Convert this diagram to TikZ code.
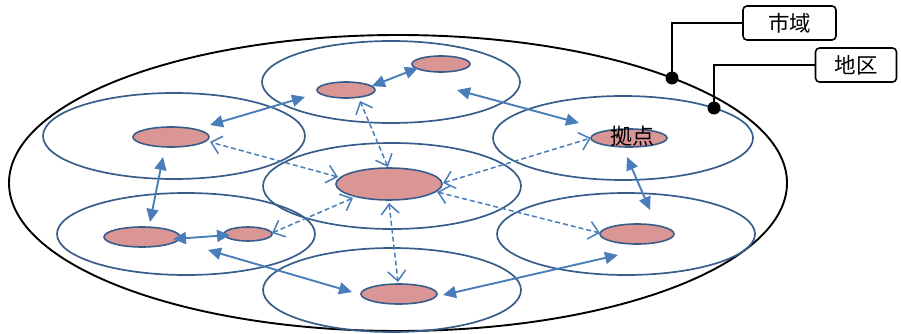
\documentclass[tikz,border=0pt]{standalone}
\usepackage{fontspec}
\newfontfamily\cjk{Noto Sans CJK JP}
\usetikzlibrary{shapes.geometric,arrows.meta}
\definecolor{rblue}{RGB}{56,93,138}
\definecolor{pinkf}{RGB}{217,150,148}
\definecolor{ablue}{RGB}{74,126,187}
\begin{document}
\begin{tikzpicture}[x=1pt,y=-1pt,
  region/.style={ellipse,draw=rblue,line width=1.7pt,inner sep=0pt},
  hub/.style={ellipse,draw=rblue,fill=pinkf,line width=1.6pt,inner sep=0pt},
  solidarr/.style={draw=ablue,line width=1.9pt,{Triangle[length=13pt,width=12pt]}-{Triangle[length=13pt,width=12pt]}},
  dasharr/.style={draw=ablue,line width=1.5pt,dash pattern=on 5pt off 3pt,{Straight Barb[length=10pt,width=18pt]}-{Straight Barb[length=10pt,width=18pt]}},
  dot/.style={circle,fill=black,minimum size=13pt,inner sep=0pt},
  tag/.style={draw,rounded corners=4pt,line width=1.6pt,minimum height=34pt,inner sep=0pt,font=\cjk\fontsize{21.5}{21.5}\selectfont},
  callout/.style={line width=1.7pt}]
\useasboundingbox (0,0) rectangle (901,334);
% market area
\node[ellipse,draw,line width=1.9pt,minimum width=778pt,minimum height=296pt,inner sep=0pt] (big) at (398,183) {};
% regions
\node[region,minimum width=258pt,minimum height=82pt] (rT) at (391,82) {};
\node[region,minimum width=262pt,minimum height=86pt] (rUL) at (174,136) {};
\node[region,minimum width=260pt,minimum height=84pt] (rUR) at (623,138) {};
\node[region,minimum width=258pt,minimum height=86pt] (rC) at (392,186) {};
\node[region,minimum width=258pt,minimum height=82pt] (rLL) at (186,234) {};
\node[region,minimum width=258pt,minimum height=82pt] (rLR) at (626,234) {};
\node[region,minimum width=258pt,minimum height=84pt] (rB) at (392,290) {};
% hubs
\node[hub,minimum width=58pt,minimum height=16pt] (TL) at (346,90) {};
\node[hub,minimum width=58pt,minimum height=16pt] (TR) at (441,64) {};
\node[hub,minimum width=76pt,minimum height=20pt] (UL) at (171,137) {};
\node[hub,minimum width=76pt,minimum height=18pt] (P) at (629,138) {};
\node[hub,minimum width=106pt,minimum height=32pt] (C) at (389,184) {};
\node[hub,minimum width=76pt,minimum height=20pt] (LL) at (142,237) {};
\node[hub,minimum width=48pt,minimum height=14pt] (LS) at (248,234) {};
\node[hub,minimum width=74pt,minimum height=20pt] (LR) at (637,234) {};
\node[hub,minimum width=76pt,minimum height=20pt] (B) at (399,294) {};
\node[font=\cjk\fontsize{22}{22}\selectfont,inner sep=0pt] (Plabel) at (632,136) {拠点};
% solid links
\draw[solidarr] ([shift={(39,-12)}]UL.center) -- ([shift={(-41,7)}]TL.center);
\draw[solidarr] ([shift={(26,-4)}]TL.center) -- ([shift={(-23,4)}]TR.center);
\draw[solidarr] ([shift={(16,26)}]TR.center) -- ([shift={(-50,-15)}]P.center);
\draw[solidarr] ([shift={(-2,19)}]P.center) -- ([shift={(13,-24)}]LR.center);
\draw[solidarr] ([shift={(-8,20)}]UL.center) -- ([shift={(8,-15)}]LL.center);
\draw[solidarr] ([shift={(31,2)}]LL.center) -- ([shift={(-18,1)}]LS.center);
\draw[solidarr] ([shift={(66,13)}]LL.center) -- ([shift={(-47,-2)}]B.center);
\draw[solidarr] ([shift={(44,1)}]B.center) -- ([shift={(-19,21)}]LR.center);
% dashed links
\draw[dasharr] ([shift={(-1,-17)}]C.center) -- ([shift={(14,11)}]TL.center);
\draw[dasharr] ([shift={(-51,-7)}]C.center) -- ([shift={(39,5)}]UL.center);
\draw[dasharr] ([shift={(54,-1)}]C.center) -- ([shift={(-38,0)}]P.center);
\draw[dasharr] ([shift={(48,8)}]C.center) -- ([shift={(-37,-1)}]LR.center);
\draw[dasharr] ([shift={(-36,14)}]C.center) -- ([shift={(24,-1)}]LS.center);
\draw[dasharr] ([shift={(0,19)}]C.center) -- ([shift={(-1,-12)}]B.center);
% callouts
\node[dot] (d1) at (672,78) {};
\node[dot] (d2) at (714,108) {};
\node[tag,minimum width=93pt] (t1) at (789.5,23) {市域};
\node[tag,minimum width=81pt] (t2) at (856,65) {地区};
\draw[callout] (t1.west) -| (d1.center);
\draw[callout] (t2.west) -| (d2.center);
\end{tikzpicture}
\end{document}
